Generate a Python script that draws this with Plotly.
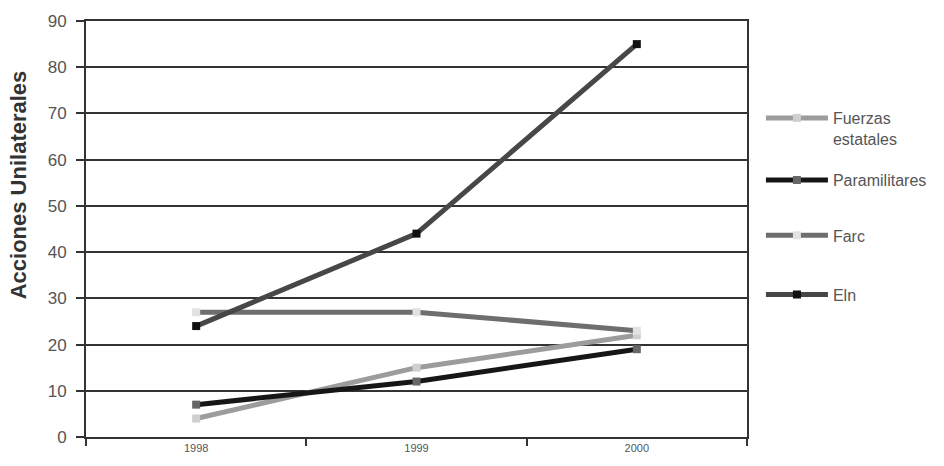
import plotly.graph_objects as go

years = ["1998", "1999", "2000"]
series_names = ["Fuerzas<br>estatales", "Paramilitares", "Farc", "Eln"]
fuerzas = [4, 15, 22]
paramilitares = [7, 12, 19]
farc = [27, 27, 23]
eln = [24, 44, 85]
y_ticks = [0, 10, 20, 30, 40, 50, 60, 70, 80, 90]

values = [fuerzas, paramilitares, farc, eln]
line_colors = ["#9c9c9c", "#161616", "#6e6e6e", "#474747"]
marker_colors = ["#cfcfcf", "#666666", "#e2e2e2", "#111111"]
legend_ids = ["legend", "legend2", "legend3", "legend4"]

# plot area geometry in pixels (for placing legends/title)
L, R, T, B = 86, 750, 16, 437
def py(p):
    return (B - p) / (B - T)
def px(p):
    return (p - L) / (R - L)

fig = go.Figure()
for i, (name, vals) in enumerate(zip(series_names, values)):
    fig.add_trace(go.Scatter(
        x=years, y=vals, name=name, mode="lines+markers",
        line=dict(color=line_colors[i], width=5),
        marker=dict(symbol="square", size=8, color=marker_colors[i]),
        legend=legend_ids[i],
    ))

leg_common = dict(
    xanchor="left", font=dict(size=16, color="#555555", family="Liberation Sans, Arial, sans-serif"),
    itemwidth=62, bgcolor="rgba(0,0,0,0)", borderwidth=0,
)
legend_y = [(py(97), "top"), (py(177), "middle"), (py(233), "middle"), (py(293), "middle")]

layout_legends = {}
for lid, (yy, anc) in zip(legend_ids, legend_y):
    d = dict(leg_common)
    d.update(x=px(764), y=yy, yanchor=anc, valign="top")
    layout_legends[lid] = d

fig.update_layout(
    width=944, height=466,
    margin=dict(l=L, r=944 - R, t=T, b=466 - B),
    paper_bgcolor="white", plot_bgcolor="white",
    font=dict(family="Liberation Sans, Arial, sans-serif", color="#555555"),
    showlegend=True,
    xaxis=dict(
        type="category", range=[-0.5, 2.5], tickson="boundaries",
        ticks="outside", ticklen=7, tickwidth=1.5, tickcolor="#333333",
        showline=True, linecolor="#333333", linewidth=2, mirror=True,
        showgrid=False, tickfont=dict(size=11, color="#555555"),
    ),
    yaxis=dict(
        range=[0, 90], tickvals=y_ticks, ticks="outside", ticklen=8,
        tickwidth=1.5, tickcolor="#333333", ticklabelstandoff=6,
        showline=True, linecolor="#333333", linewidth=2, mirror=True,
        showgrid=True, gridcolor="#333333", gridwidth=1.5,
        zeroline=False, tickfont=dict(size=17, color="#555555"),
    ),
    annotations=[dict(
        text="<b>Acciones Unilaterales</b>", textangle=-90,
        xref="paper", yref="paper", x=px(18), y=py(182),
        xanchor="center", yanchor="middle", showarrow=False,
        font=dict(size=22, color="#333333"),
    )],
    **layout_legends,
)

fig.write_html("out.html")
